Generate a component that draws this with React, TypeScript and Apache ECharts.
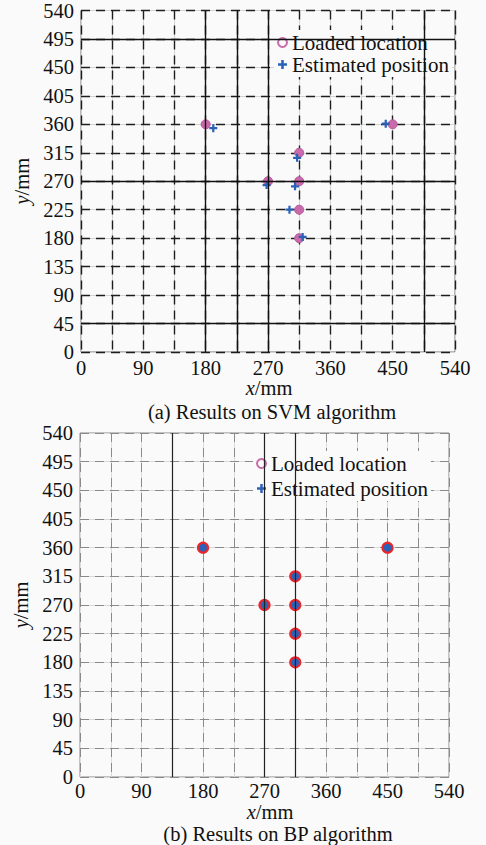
import React, { useEffect, useRef } from "react";
import * as echarts from "echarts";

// ---- data ----
const gridTicks = [0, 45, 90, 135, 180, 225, 270, 315, 360, 405, 450, 495, 540];
const xTickLabels = [0, 90, 180, 270, 360, 450, 540];
const yTickLabels = [0, 45, 90, 135, 180, 225, 270, 315, 360, 405, 450, 495, 540];

const loadedLocations = [
  [180, 360], [450, 360], [315, 315], [270, 270], [315, 270], [315, 225], [315, 180],
];
const svmEstimated = [
  [191, 354], [440, 361], [312, 307], [268, 264], [309, 262], [301, 225], [320, 182],
];
const bpEstimated = [
  [180, 360], [450, 360], [315, 315], [270, 270], [315, 270], [315, 225], [315, 180],
];

// scanned emphasised grid lines
const svmDarkX = [180, 225, 270, 495];
const svmDarkY = [495, 270, 45];
const bpDarkX = [135, 270, 315];
const bpDarkY: number[] = [];

const seriesNames = ["Loaded location", "Estimated position"];
const captions = ["(a) Results on SVM algorithm", "(b) Results on BP algorithm"];
const xAxisTitle = "{i|x}/mm";
const yAxisTitle = "{i|y}/mm";

// ---- styles ----
const FONT = '"Liberation Serif", "Times New Roman", serif';
const PINK = "#c96aab";
const BLUE = "#2b62b8";
const RED = "#e8262b";
const BG = "#fafafa";
const PLUS = "path://M3.6,0H6.4V3.6H10V6.4H6.4V10H3.6V6.4H0V3.6H3.6Z";

const AXMIN = gridTicks[0];
const AXMAX = gridTicks[gridTicks.length - 1];
const STEP = gridTicks[1] - gridTicks[0];

const richItalic = { i: { fontStyle: "italic", fontSize: 20.5, fontFamily: FONT, fill: "#111", color: "#111" } };

function mainAxis(g: number, dim: "x" | "y", dark: string, dashW: number, margin: number) {
  const labels = dim === "x" ? xTickLabels : yTickLabels;
  const ax: any = {
    type: "value",
    gridIndex: g,
    min: AXMIN,
    max: AXMAX,
    interval: STEP,
    z: 2,
    axisLine: { show: false },
    axisTick: { show: false },
    axisLabel: {
      margin,
      fontSize: 20.5,
      fontFamily: FONT,
      color: "#111",
      formatter: (v: number) => (labels.includes(v) ? String(v) : ""),
    },
    splitLine: { show: true, lineStyle: { color: dark, width: dashW, type: [9, 6] } },
  };
  if (dim === "y") {
    ax.name = yAxisTitle;
    ax.nameLocation = "middle";
    ax.nameGap = 48;
    ax.nameTextStyle = { fontSize: 20.5, fontFamily: FONT, color: "#111", rich: richItalic };
  }
  return ax;
}

function lightAxis(g: number, light: string) {
  return {
    type: "value",
    gridIndex: g,
    min: AXMIN,
    max: AXMAX,
    interval: STEP,
    z: 1,
    axisLine: { show: false },
    axisTick: { show: false },
    axisLabel: { show: false },
    splitLine: { show: true, lineStyle: { color: light, width: 1, type: "solid" } },
  };
}

function legendFor(left: number, top: number, gap: number) {
  return {
    orient: "vertical",
    left,
    top,
    itemWidth: 9,
    itemHeight: 9,
    itemGap: gap,
    padding: [2, 3, 2, 3],
    backgroundColor: BG,
    selectedMode: false,
    textStyle: { fontSize: 21, fontFamily: FONT, color: "#111" },
    data: [
      {
        name: seriesNames[0],
        icon: "circle",
        itemStyle: { color: "rgba(0,0,0,0)", borderColor: PINK, borderWidth: 2 },
      },
      { name: seriesNames[1], icon: PLUS, itemStyle: { color: BLUE, borderWidth: 0 } },
    ],
  };
}

function centeredText(text: string, x: number, y: number, rich?: any) {
  return {
    type: "text",
    x,
    y,
    style: {
      text,
      fontSize: 20.5,
      fontFamily: FONT,
      fill: "#111",
      align: "center",
      verticalAlign: "middle",
      ...(rich ? { rich } : {}),
    },
  };
}

export default function App() {
  const ref = useRef<HTMLDivElement>(null);
  useEffect(() => {
    if (!ref.current) return;
    const chart = echarts.init(ref.current, undefined, { renderer: "svg" });
    const option: any = {
      animation: false,
      backgroundColor: BG,
      grid: [
        { left: 81, top: 10, width: 374, height: 342, show: true, backgroundColor: "transparent", borderColor: "#777", borderWidth: 1 },
        { left: 80, top: 433, width: 369, height: 344, show: true, backgroundColor: "transparent", borderColor: "#888", borderWidth: 1 },
      ],
      xAxis: [
        mainAxis(0, "x", "#1e1e1e", 1.4, 5),
        lightAxis(0, "#d2d2d2"),
        mainAxis(1, "x", "#8a8a8a", 1, 3),
        lightAxis(1, "#dadada"),
      ],
      yAxis: [
        mainAxis(0, "y", "#1e1e1e", 1.4, 7),
        lightAxis(0, "#d2d2d2"),
        mainAxis(1, "y", "#8a8a8a", 1, 7),
        lightAxis(1, "#dadada"),
      ],
      legend: [legendFor(274, 30, 1), legendFor(253, 451, 4)],
      series: [
        {
          type: "line",
          xAxisIndex: 0,
          yAxisIndex: 0,
          data: [],
          silent: true,
          z: 1,
          markLine: {
            silent: true,
            symbol: "none",
            label: { show: false },
            lineStyle: { color: "#111", width: 1.4, type: "solid" },
            data: [...svmDarkX.map((v) => ({ xAxis: v })), ...svmDarkY.map((v) => ({ yAxis: v }))],
          },
        },
        {
          type: "line",
          xAxisIndex: 2,
          yAxisIndex: 2,
          data: [],
          silent: true,
          z: 1,
          markLine: {
            silent: true,
            symbol: "none",
            label: { show: false },
            lineStyle: { color: "#222", width: 1.2, type: "solid" },
            data: [...bpDarkX.map((v) => ({ xAxis: v })), ...bpDarkY.map((v) => ({ yAxis: v }))],
          },
        },
        {
          name: seriesNames[0],
          type: "scatter",
          xAxisIndex: 0,
          yAxisIndex: 0,
          symbol: "circle",
          symbolSize: 9,
          itemStyle: { color: PINK, borderColor: "#b85a9c", borderWidth: 1, opacity: 1 },
          data: loadedLocations,
          z: 3,
        },
        {
          name: seriesNames[1],
          type: "scatter",
          xAxisIndex: 0,
          yAxisIndex: 0,
          symbol: PLUS,
          symbolSize: 8,
          itemStyle: { color: BLUE, opacity: 1 },
          data: svmEstimated,
          z: 4,
        },
        {
          name: seriesNames[0],
          type: "scatter",
          xAxisIndex: 2,
          yAxisIndex: 2,
          symbol: "circle",
          symbolSize: 10,
          itemStyle: { color: BLUE, borderColor: RED, borderWidth: 2.2, opacity: 1 },
          data: loadedLocations,
          z: 3,
        },
        {
          name: seriesNames[1],
          type: "scatter",
          xAxisIndex: 2,
          yAxisIndex: 2,
          symbol: PLUS,
          symbolSize: 6,
          itemStyle: { color: BLUE, opacity: 1 },
          data: bpEstimated,
          z: 4,
        },
      ],
      graphic: [
        centeredText(xAxisTitle, 269, 388, richItalic),
        centeredText(captions[0], 272, 412),
        centeredText(xAxisTitle, 270, 811.5, richItalic),
        centeredText(captions[1], 278, 834),
      ],
    };
    chart.setOption(option);
    return () => chart.dispose();
  }, []);
  return (
    <div
      ref={ref}
      style={{ position: "fixed", left: 0, top: 0, width: 486, height: 845 }}
    />
  );
}
